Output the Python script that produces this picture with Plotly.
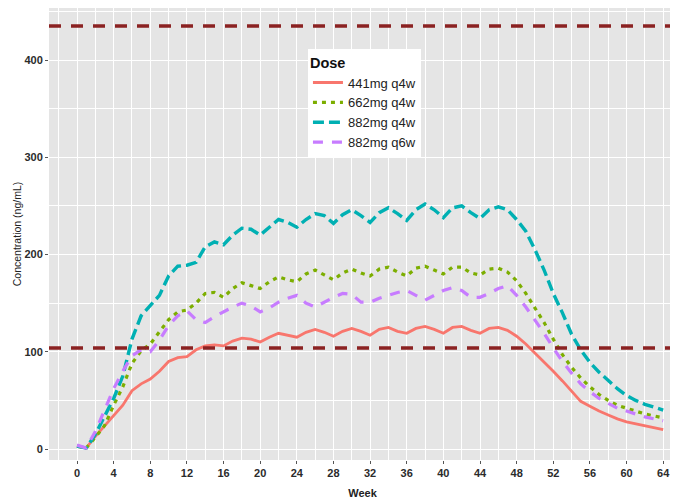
import plotly.graph_objects as go

weeks = list(range(0, 65))

dose_labels = ["441mg q4w", "662mg q4w", "882mg q4w", "882mg q6w"]

conc_441_q4w = [3, 1, 13, 24, 35, 45, 60, 67, 72, 80, 90, 94, 95, 102, 106, 107, 106, 111, 114, 113,
                110, 115, 119, 117, 115, 120, 123, 120, 116, 121, 124, 121, 117, 123, 125, 121, 119, 124, 126, 123,
                119, 125, 126, 122, 119, 124, 125, 122, 116, 108, 99, 90, 80, 70, 59, 49, 44, 39, 35, 31,
                28, 26, 24, 22, 20]

conc_662_q4w = [3, 1, 12, 24, 45, 64, 88, 101, 108, 120, 133, 141, 143, 150, 160, 161, 156, 165, 171, 168,
                165, 172, 177, 174, 172, 180, 184, 179, 174, 181, 185, 181, 178, 185, 187, 182, 178, 186, 188, 184,
                180, 187, 187, 181, 179, 185, 186, 182, 173, 160, 145, 130, 113, 97, 84, 73, 64, 56, 50, 45,
                42, 39, 36, 34, 32]

conc_882_q4w = [3, 1, 15, 33, 52, 75, 113, 137, 148, 158, 178, 188, 189, 192, 208, 213, 210, 220, 227, 226,
                220, 228, 236, 233, 228, 236, 242, 240, 232, 241, 246, 240, 233, 243, 248, 242, 235, 246, 252, 246,
                238, 248, 250, 243, 237, 246, 249, 246, 236, 224, 205, 184, 160, 140, 118, 102, 89, 79, 70, 62,
                55, 50, 46, 43, 40]

conc_882_q6w = [4, 1, 18, 40, 62, 80, 96, 102, 100, 112, 127, 137, 142, 133, 130, 136, 141, 146, 150, 147,
                141, 145, 151, 155, 158, 150, 146, 151, 156, 160, 159, 151, 151, 155, 158, 161, 163, 158, 153, 158,
                163, 166, 163, 156, 156, 160, 165, 168, 158, 146, 133, 119, 104, 90, 78, 67, 59, 52, 47, 42,
                39, 36, 33, 31, 29]

thresholds = [104, 435]

x_ticks = list(range(0, 65, 4))
y_ticks = [0, 100, 200, 300, 400]

series = [conc_441_q4w, conc_662_q4w, conc_882_q4w, conc_882_q6w]
colors = ["#F8766D", "#7CAE00", "#00B0B3", "#C77CFF"]
dashes = ["solid", "4px,5px", "11px,5px", "10px,9px"]
widths = [2.8, 3.2, 3.4, 3.2]

fig = go.Figure()
for lab, ys, c, d, w in zip(dose_labels, series, colors, dashes, widths):
    fig.add_trace(go.Scatter(x=weeks, y=ys, mode="lines", name=lab,
                             line=dict(color=c, dash=d, width=w)))

for t in thresholds:
    fig.add_hline(y=t, line=dict(color="#8B2222", width=3.5, dash="12px,10px"))

fig.update_layout(
    width=678, height=501,
    margin=dict(l=41, r=10, t=0, b=49, autoexpand=False),
    paper_bgcolor="white",
    plot_bgcolor="#E5E5E5",
    font=dict(family="Liberation Sans, Arial, sans-serif", color="#222222"),
    showlegend=True,
    legend=dict(
        title=dict(text="<b>Dose</b>", font=dict(size=14.5, color="#111111")),
        x=0.413, y=0.91, xanchor="left", yanchor="top",
        bgcolor="white", borderwidth=0,
        font=dict(size=13, color="#222222"),
        itemwidth=30, tracegroupgap=0,
    ),
)

fig.update_xaxes(
    range=[-3.06, 65.4], tickvals=x_ticks, ticktext=[str(v) for v in x_ticks],
    showgrid=True, gridcolor="white", gridwidth=1.2, zeroline=False,
    minor=dict(dtick=2, tick0=0, showgrid=True, gridcolor="white", gridwidth=0.6),
    ticks="outside", ticklen=3, tickcolor="#555555",
    tickfont=dict(size=11, color="#2b2b2b", weight="bold"),
    title=dict(text="Week", font=dict(size=11, color="#222222", weight="bold"), standoff=11),
    showline=False, automargin=False,
)
fig.update_yaxes(
    range=[-11.3, 453.5], tickvals=y_ticks, ticktext=[str(v) for v in y_ticks],
    showgrid=True, gridcolor="white", gridwidth=1.2, zeroline=False,
    minor=dict(dtick=50, tick0=0, showgrid=True, gridcolor="white", gridwidth=0.6),
    ticks="outside", ticklen=3, tickcolor="#555555",
    tickfont=dict(size=11, color="#2b2b2b", weight="bold"),
    title=dict(text="Concentration (ng/mL)", font=dict(size=10.5, color="#222222"), standoff=0),
    showline=False, automargin=False,
)

fig.write_html("out.html")
